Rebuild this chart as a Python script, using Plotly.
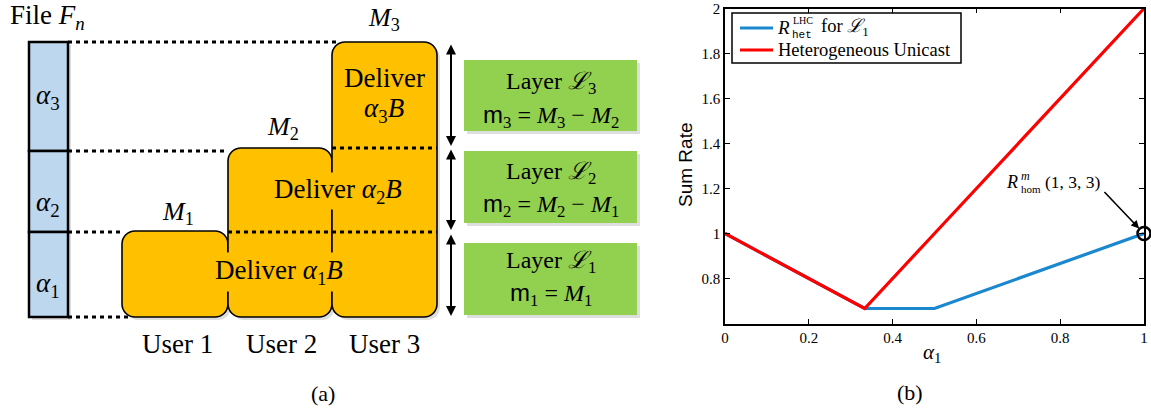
import plotly.graph_objects as go

W, H = 1151, 412

# ---------------- data (panel b) ----------------
alpha1 = [0.0, 1/3, 0.5, 1.0]
rate_lhc = [1.0, 2/3, 2/3, 1.0]          # R_het^LHC for L1
rate_unicast = [1.0, 2/3, 1.0, 2.0]      # Heterogeneous Unicast
hom_x = [1.0]
hom_y = [1.0]
x_tickvals = [0, 0.2, 0.4, 0.6, 0.8, 1]
x_ticktext = ["0", "0.2", "0.4", "0.6", "0.8", "1"]
y_tickvals = [0.8, 1.0, 1.2, 1.4, 1.6, 1.8, 2.0]
y_ticktext = ["0.8", "1", "1.2", "1.4", "1.6", "1.8", "2"]
series_names = ["R_het^LHC for L1", "Heterogeneous Unicast"]
series_colors = ["#1b87cf", "#ff0000"]

SERIF = "Liberation Serif, Times New Roman, DejaVu Serif, serif"
SANS = "Liberation Sans, Arial, DejaVu Sans, sans-serif"
MONO = "Liberation Mono, DejaVu Sans Mono, monospace"
ORANGE = "#FFC000"
GREEN = "#92D050"
LBLUE = "#BDD7EE"


def px(x):
    return x / W


def py(y):
    return 1 - y / H


fig = go.Figure()
for yv, nm, col in zip([rate_lhc, rate_unicast], series_names, series_colors):
    fig.add_trace(go.Scatter(x=alpha1, y=yv, mode="lines", name=nm, showlegend=False,
                             line=dict(color=col, width=3.2)))
fig.add_trace(go.Scatter(x=hom_x, y=hom_y, mode="markers", showlegend=False,
                         cliponaxis=False,
                         marker=dict(symbol="circle-open", size=13, color="black",
                                     line=dict(color="black", width=2.5))))

axis_common = dict(showline=True, linecolor="black", linewidth=1.5, mirror="ticks",
                   ticks="inside", ticklen=5, tickcolor="black", tickwidth=1.2,
                   showgrid=False, zeroline=False, ticklabeloverflow="allow",
                   automargin=False,
                   tickfont=dict(family=SERIF, size=15, color="black"))
fig.update_xaxes(domain=[px(725), px(1144)], range=[0, 1], tickvals=x_tickvals,
                 ticktext=x_ticktext, **axis_common)
fig.update_yaxes(domain=[py(323.5), py(8.5)], range=[0.6, 2], tickvals=y_tickvals,
                 ticktext=y_ticktext, **axis_common)

shapes = []
annots = []


def text(x, y, s, size=24, family=SERIF, xanchor="center", **kw):
    d = dict(x=px(x), y=py(y), xref="paper", yref="paper", text=s, showarrow=False,
             xanchor=xanchor, yanchor="middle",
             font=dict(family=family, size=size, color="black"))
    d.update(kw)
    annots.append(d)


def rrect_path(x0, y0, x1, y1, r):
    k = 0.5523 * r

    def P(x, y):
        return f"{px(x):.6f},{py(y):.6f}"
    return (f"M {P(x0 + r, y0)} L {P(x1 - r, y0)} "
            f"C {P(x1 - r + k, y0)} {P(x1, y0 + r - k)} {P(x1, y0 + r)} "
            f"L {P(x1, y1 - r)} "
            f"C {P(x1, y1 - r + k)} {P(x1 - r + k, y1)} {P(x1 - r, y1)} "
            f"L {P(x0 + r, y1)} "
            f"C {P(x0 + r - k, y1)} {P(x0, y1 - r + k)} {P(x0, y1 - r)} "
            f"L {P(x0, y0 + r)} "
            f"C {P(x0, y0 + r - k)} {P(x0 + r - k, y0)} {P(x0 + r, y0)} Z")


def rect(x0, y0, x1, y1, fill, lc="black", lw=0):
    shapes.append(dict(type="rect", xref="paper", yref="paper",
                       x0=px(x0), x1=px(x1), y0=py(y1), y1=py(y0),
                       fillcolor=fill, line=dict(color=lc, width=lw), layer="above"))


def hline(x0, x1, y, color="black", width=3, dash="4px,4px"):
    shapes.append(dict(type="line", xref="paper", yref="paper",
                       x0=px(x0), x1=px(x1), y0=py(y), y1=py(y),
                       line=dict(color=color, width=width, dash=dash), layer="above"))


SH = "rgba(0,0,0,0.13)"
# ---------------- panel (a) ----------------
# shadows
rect(32, 45, 71, 320, SH)
for (y0, y1) in [(60, 131), (151, 223), (243, 315)]:
    rect(467, y0 + 3, 640, y1 + 3, SH)
for (x0, y0, x1) in [(122, 231, 228), (228, 148, 332), (332, 42, 437)]:
    shapes.append(dict(type="path", xref="paper", yref="paper",
                       path=rrect_path(x0 + 3, y0 + 3, x1 + 3, 320, 13),
                       fillcolor=SH, line=dict(width=0), layer="above"))
# dotted guide lines (left)
hline(68, 336, 42)
hline(68, 228, 151)
hline(68, 122, 232)
hline(68, 132, 317)
# file bar
rect(29, 42, 68, 151, LBLUE, "black", 2.5)
rect(29, 151, 68, 232, LBLUE, "black", 2.5)
rect(29, 232, 68, 317, LBLUE, "black", 2.5)
# user blocks
for (x0, y0, x1) in [(122, 231, 228), (228, 148, 332), (332, 42, 437)]:
    shapes.append(dict(type="path", xref="paper", yref="paper",
                       path=rrect_path(x0, y0, x1, 317, 13),
                       fillcolor=ORANGE, line=dict(color="black", width=1.6), layer="above"))
# inner dotted lines
hline(332, 437, 148)
hline(228, 437, 232)
# green layer boxes
for (y0, y1) in [(60, 131), (151, 223), (243, 315)]:
    rect(464, y0, 637, y1, GREEN)

# vertical double arrows
for (ya, yb) in [(43, 146), (148, 230), (233, 316)]:
    annots.append(dict(x=px(451), y=py(yb), xref="paper", yref="paper",
                       ax=0, ay=-(yb - ya), axref="pixel", ayref="pixel",
                       text="", showarrow=True, arrowhead=2, arrowsize=1,
                       arrowwidth=2, arrowcolor="black", arrowside="end+start"))

text(47, 17, "File <i>F<sub>n</sub></i>", size=27)
text(48, 97, "<i>α</i><sub>3</sub>", size=27)
text(48, 204, "<i>α</i><sub>2</sub>", size=27)
text(48, 285, "<i>α</i><sub>1</sub>", size=27)
text(384, 19, "<i>M</i><sub>3</sub>", size=26)
text(283, 128, "<i>M</i><sub>2</sub>", size=26)
text(178, 213, "<i>M</i><sub>1</sub>", size=26)
text(384, 78, "Deliver", size=27)
text(384, 110, "<i>α</i><sub>3</sub><i>B</i>", size=27)
text(338, 191, "Deliver <i>α</i><sub>2</sub><i>B</i>", size=27, bgcolor=ORANGE, borderpad=1)
text(279, 272, "Deliver <i>α</i><sub>1</sub><i>B</i>", size=27, bgcolor=ORANGE, borderpad=2)
text(177, 344, "User 1", size=27)
text(281, 344, "User 2", size=27)
text(384, 344, "User 3", size=27)
text(323, 393, "(a)", size=22)

M_SF = '<span style="font-family:Liberation Sans">m</span>'
text(551, 83, "Layer <i>ℒ</i><sub>3</sub>", size=24)
text(551, 116, f"{M_SF}<sub>3</sub> = <i>M</i><sub>3</sub> − <i>M</i><sub>2</sub>", size=24)
text(551, 173, "Layer <i>ℒ</i><sub>2</sub>", size=24)
text(551, 205, f"{M_SF}<sub>2</sub> = <i>M</i><sub>2</sub> − <i>M</i><sub>1</sub>", size=24)
text(551, 262, "Layer <i>ℒ</i><sub>1</sub>", size=24)
text(551, 294, f"{M_SF}<sub>1</sub> = <i>M</i><sub>1</sub>", size=24)

# ---------------- panel (b) labels ----------------
text(686, 165, "Sum Rate", size=19, family=SANS, textangle=-90)
text(932, 353, "<i>α</i><sub>1</sub>", size=21)
text(910, 392, "(b)", size=22)

# legend box (drawn by hand to match the reference layout)
rect(732, 13, 961, 63, "white", "black", 1.5)
hline(740, 773, 28, series_colors[0], 3.2, "solid")
hline(740, 773, 50, series_colors[1], 3.2, "solid")
text(775, 28, "<i>R</i>", size=19, xanchor="left")
text(791, 21, "LHC", size=10, xanchor="left")
text(790, 35, "het", size=11, family=MONO, xanchor="left")
text(819, 28, "for <i>ℒ</i><sub>1</sub>", size=18.5, xanchor="left")
text(776, 50, "Heterogeneous Unicast", size=18.5, xanchor="left")

# R^m_hom(1,3,3) label and arrow
text(1004, 182, "<i>R</i>", size=18, xanchor="left")
text(1019, 176, "<i>m</i>", size=12, xanchor="left")
text(1019, 189, "hom", size=11, xanchor="left")
text(1043, 182, "(1, 3, 3)", size=17.5, xanchor="left")
annots.append(dict(x=hom_x[0], y=hom_y[0], xref="x", yref="y", ax=-41, ay=-43,
                   text="", showarrow=True, arrowhead=2, arrowsize=1, arrowwidth=1.6,
                   arrowcolor="black", standoff=7))

fig.update_layout(
    width=W, height=H, margin=dict(l=0, r=0, t=0, b=0, autoexpand=False),
    paper_bgcolor="white", plot_bgcolor="white",
    shapes=shapes, annotations=annots, showlegend=False,
)

fig.write_html("out.html")
